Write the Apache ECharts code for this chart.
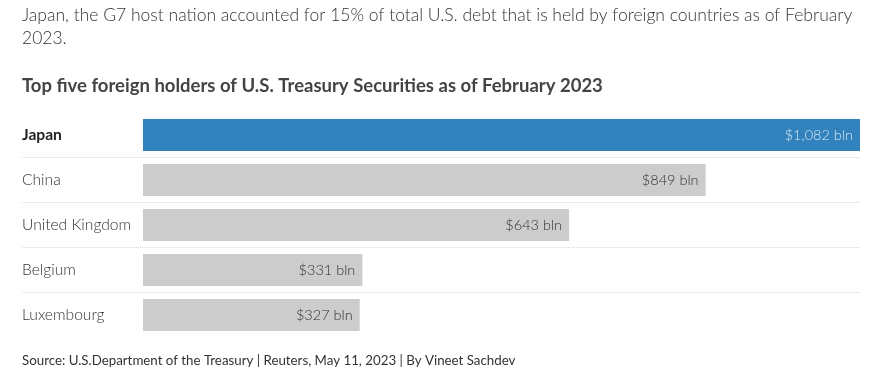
<!DOCTYPE html>
<html><head><meta charset="utf-8">
<style>html,body{margin:0;padding:0;background:#fff}#c{width:892px;height:376px}</style>
<script src="https://cdn.jsdelivr.net/npm/echarts@6/dist/echarts.min.js"></script>
</head><body><div id="c"></div>
<script>
const categories = ['Japan', 'China', 'United Kingdom', 'Belgium', 'Luxembourg'];
const values = [1082, 849, 643, 331, 327];
const highlight = 'Japan';
const subtitleLines = ['Japan, the G7 host nation accounted for 15% of total U.S. debt that is held by foreign countries as of February', '2023.'];
const titleText = 'Top five foreign holders of U.S. Treasury Securities as of February 2023';
const sourceText = 'Source: U.S.Department of the Treasury | Reuters, May 11, 2023 | By Vineet Sachdev';

const FONT = 'Lato';
const chart = echarts.init(document.getElementById('c'), null, {renderer: 'canvas'});
const gridTop = 112.5, gridH = 225;
chart.setOption({
  animation: false,
  textStyle: {fontFamily: FONT},
  graphic: [
    {type: 'text', left: 22, top: 4, style: {text: subtitleLines.join('\n'), fontFamily: FONT, fontWeight: 300, fontSize: 17.5, fill: '#333', lineHeight: 23}},
    {type: 'text', left: 22, top: 77, style: {text: titleText, fontFamily: FONT, fontWeight: 'bold', fontSize: 18.5, fill: '#444'}},
    {type: 'text', left: 22, top: 354, style: {text: sourceText, fontFamily: FONT, fontWeight: 'normal', fontSize: 13.3, fill: '#333'}}
  ],
  grid: [
    {left: 143, right: 32, top: gridTop, height: gridH},
    {left: 22, right: 32, top: gridTop, height: gridH}
  ],
  xAxis: [
    {gridIndex: 0, type: 'value', min: 0, max: 1082, show: false},
    {gridIndex: 1, type: 'value', min: 0, max: 1, show: false}
  ],
  yAxis: [
    {gridIndex: 0, type: 'category', data: categories, inverse: true,
     axisLine: {show: false}, axisTick: {show: false}, splitLine: {show: false},
     axisLabel: {align: 'left', margin: 121, fontSize: 15.6,
       formatter: v => v === highlight ? '{b|' + v + '}' : '{n|' + v + '}',
       rich: {b: {fontWeight: 'bold', color: '#222', fontSize: 15.6, fontFamily: FONT},
              n: {fontWeight: 300, color: '#333', fontSize: 15.6, fontFamily: FONT}}}},
    {gridIndex: 1, type: 'value', min: 0, max: 5, interval: 1,
     axisLine: {show: false}, axisTick: {show: false}, axisLabel: {show: false},
     splitLine: {show: true, showMinLine: false, showMaxLine: false, lineStyle: {color: '#d8d8d8', type: [1, 1], width: 1}}}
  ],
  series: [{
    type: 'bar', xAxisIndex: 0, yAxisIndex: 0, barWidth: 32,
    data: values.map((v, i) => ({value: v, itemStyle: {color: categories[i] === highlight ? '#3182bd' : '#cccccc'},
      label: {color: categories[i] === highlight ? '#d6e6f4' : '#333'}})),
    label: {show: true, position: 'insideRight', distance: 7, fontSize: 14.5, fontWeight: 300, fontFamily: FONT,
      formatter: p => '$' + p.value.toLocaleString('en-US') + ' bln'}
  }]
});
</script></body></html>
